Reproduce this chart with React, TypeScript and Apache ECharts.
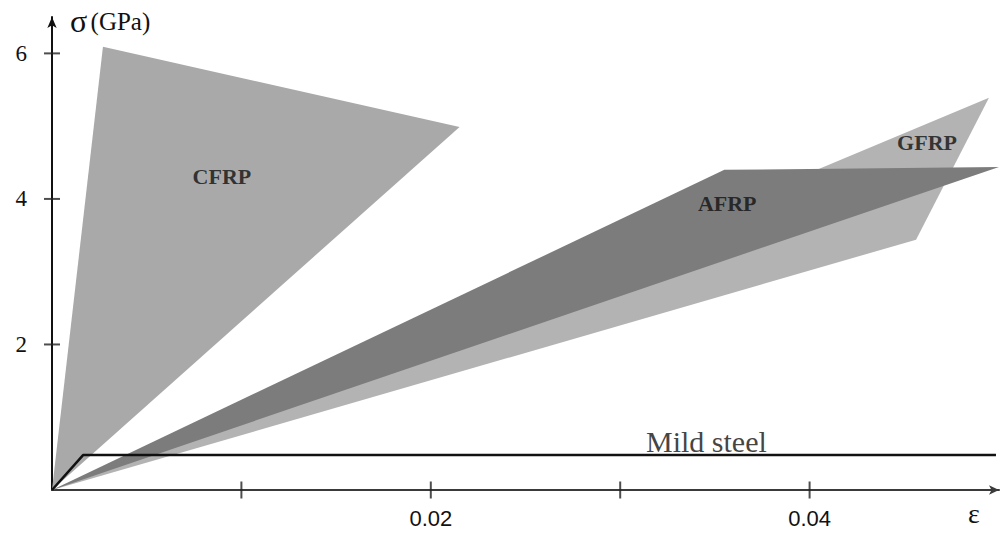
import React, { useEffect, useRef } from "react";
import * as echarts from "echarts";

// Stress–strain envelopes (strain ε, stress σ in GPa)
const cfrp: number[][] = [[0, 0], [0.00269, 6.09], [0.02152, 4.99]];
const gfrp: number[][] = [[0, 0], [0.04947, 5.39], [0.04562, 3.44]];
const afrp: number[][] = [[0, 0], [0.0355, 4.40], [0.0500, 4.44]];
const mildSteel: number[][] = [[0, 0], [0.00164, 0.48], [0.04984, 0.48]];

const xTicks = [0.01, 0.02, 0.03, 0.04];
const xTickLabels = [0.02, 0.04];
const yTicks = [2, 4, 6];
const yTickLabels = [2, 4, 6];

const materialLabels = [
  { name: "CFRP", value: [0.00897, 4.31] },
  { name: "AFRP", value: [0.03565, 3.94] },
  { name: "GFRP", value: [0.0462, 4.77] },
];
const steelLabel = [{ name: "Mild steel", value: [0.03455, 0.66] }];

const SERIF = "'Liberation Serif', 'Times New Roman', serif";

function polygonSeries(name: string, pts: number[][], color: string, z: number) {
  return {
    type: "custom",
    name,
    data: pts,
    silent: true,
    clip: false,
    z,
    renderItem: (params: any, api: any) => {
      if (params.dataIndex !== 0) return null;
      const points = pts.map((p) => api.coord(p));
      return { type: "polygon", shape: { points }, style: { fill: color } };
    },
  };
}

export default function App() {
  const ref = useRef<HTMLDivElement>(null);
  useEffect(() => {
    if (!ref.current) return;
    const chart = echarts.init(ref.current, null, { renderer: "svg" });
    const near = (v: number, list: number[]) => list.some((t) => Math.abs(v - t) < 1e-9);
    chart.setOption({
      animation: false,
      backgroundColor: "#ffffff",
      grid: { left: 52, right: 2, top: 17, bottom: 43 },
      xAxis: {
        type: "value",
        min: 0,
        max: 0.05,
        interval: 0.01,
        axisLine: {
          show: true,
          lineStyle: { color: "#3a3a3a", width: 2 },
          symbol: ["none", "arrow"],
          symbolSize: [7, 10],
        },
        axisTick: { show: false },
        splitLine: { show: false },
        axisLabel: {
          margin: 17,
          fontFamily: "'Liberation Sans', Arial, sans-serif",
          fontSize: 22,
          color: "#111",
          formatter: (v: number) => (near(v, xTickLabels) ? v.toFixed(2) : ""),
        },
      },
      yAxis: {
        type: "value",
        min: 0,
        max: 6.5,
        interval: 2,
        axisLine: {
          show: true,
          lineStyle: { color: "#111", width: 2 },
          symbol: ["none", "arrow"],
          symbolSize: [7, 11],
        },
        axisTick: { show: false },
        splitLine: { show: false },
        axisLabel: {
          margin: 25,
          fontFamily: SERIF,
          fontSize: 23,
          color: "#111",
          formatter: (v: number) => (near(v, yTickLabels) ? String(v) : ""),
        },
      },
      graphic: [
        {
          type: "text",
          left: 70,
          top: 5,
          style: {
            text: "{s|σ} {g|(GPa)}",
            rich: {
              s: { fontFamily: SERIF, fontSize: 32, fill: "#111" },
              g: { fontFamily: SERIF, fontSize: 25, fill: "#111" },
            },
          },
        },
        {
          type: "text",
          left: 968,
          top: 499,
          style: { text: "ε", fontFamily: SERIF, fontSize: 28, fill: "#111" },
        },
      ],
      series: [
        polygonSeries("CFRP", cfrp, "#a9a9a9", 1),
        polygonSeries("GFRP", gfrp, "#b3b3b3", 2),
        polygonSeries("AFRP", afrp, "#7c7c7c", 3),
        {
          type: "line",
          name: "Mild steel",
          data: mildSteel,
          symbol: "none",
          silent: true,
          clip: false,
          z: 5,
          lineStyle: { color: "#111", width: 2.5 },
        },
        {
          type: "scatter",
          name: "xticks",
          data: xTicks.map((v) => [v, 0]),
          symbol: "rect",
          symbolSize: [2, 17],
          itemStyle: { color: "#222" },
          silent: true,
          clip: false,
          z: 6,
        },
        {
          type: "scatter",
          name: "yticks",
          data: yTicks.map((v) => [0, v]),
          symbol: "rect",
          symbolSize: [16, 2],
          itemStyle: { color: "#222" },
          silent: true,
          clip: false,
          z: 6,
        },
        {
          type: "scatter",
          name: "materialLabels",
          data: materialLabels,
          symbolSize: 0,
          silent: true,
          z: 7,
          label: {
            show: true,
            position: "inside",
            formatter: "{b}",
            fontFamily: SERIF,
            fontSize: 22,
            fontWeight: "bold",
            color: "#111",
          },
        },
        {
          type: "scatter",
          name: "steelLabel",
          data: steelLabel,
          symbolSize: 0,
          silent: true,
          z: 7,
          label: {
            show: true,
            position: "inside",
            formatter: "{b}",
            fontFamily: SERIF,
            fontSize: 30,
            color: "#111",
          },
        },
      ],
    });
    return () => chart.dispose();
  }, []);
  return (
    <div
      ref={ref}
      style={{ position: "absolute", left: 0, top: 0, width: 1002, height: 533 }}
    />
  );
}
